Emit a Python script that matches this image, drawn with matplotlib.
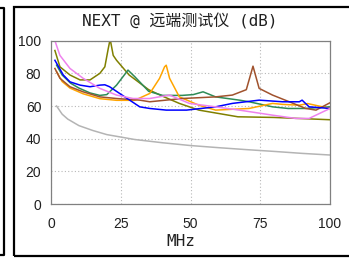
import matplotlib
matplotlib.use("Agg")
import matplotlib.pyplot as plt
from matplotlib.lines import Line2D

W, H = 349, 258

# --- DATA ---
limit_f = [2, 4, 6, 8, 10, 15, 20, 25, 30, 40, 50, 60, 70, 80, 90, 100]
limit_db = [60, 55, 52, 50, 48, 45, 42.5, 41, 39.5, 37.5, 35.8, 34.5, 33.3, 32.2, 31, 30]

olive_f = [1.4, 3.2, 6.8, 10.4, 14, 17.5, 19.3, 20.5, 21.2, 22.3, 23.5, 28, 35, 40, 46, 53, 67, 80, 100]
olive_db = [94, 84, 79, 76, 76, 80, 84, 95, 101, 91, 88, 79, 70, 66, 61.6, 57.5, 53.4, 53, 51.6]

green_f = [2, 4, 7, 10, 14, 17.5, 20, 23.5, 27.6, 30, 35, 40, 47, 51, 54.5, 59, 67.5, 71, 79.4, 85, 91, 100]
green_db = [85, 79, 74, 71, 68, 66.5, 67, 72.8, 82, 78, 69, 66.5, 66.5, 67, 68.7, 65.6, 63.6, 62.6, 59.5, 58.5, 58.5, 59.5]

orange_f = [2, 4, 6.8, 11.5, 17.5, 23.5, 30, 35.4, 38.9, 40.7, 41.3, 42.5, 46, 53, 59, 71, 79.4, 83, 89, 92, 100]
orange_db = [81, 75, 71, 67.5, 64.5, 63.5, 63.5, 67.7, 76.9, 84, 85, 77, 65.6, 60.5, 57.5, 58.5, 61.6, 61, 60.5, 61.5, 58.5]

brown_f = [1.4, 3.2, 6.8, 11.5, 17.5, 23.5, 31.8, 35.4, 47, 59, 65, 70, 72.4, 74.6, 79.4, 85.4, 91.3, 95, 100]
brown_db = [83, 77, 71.8, 68.7, 65.6, 64.6, 63.6, 62.6, 64.6, 65.6, 66.7, 70, 84.4, 70.8, 66.7, 62.6, 58.5, 57.5, 62]

blue_f = [1.4, 4.4, 6.8, 10.4, 14, 17.5, 19.3, 21, 24.6, 28.2, 31.8, 35.4, 41.3, 48.6, 59, 65, 74.6, 83, 89, 90, 92.5, 100]
blue_db = [88, 79, 74.8, 72.8, 71.8, 72.8, 73, 71.8, 67.7, 63.6, 59.5, 58.5, 57.5, 57.5, 59.5, 61.6, 63.6, 62.6, 62.6, 63.6, 59.5, 58.5]

pink_f = [1.4, 3.2, 6.8, 11.5, 17.5, 23.5, 29.4, 35.4, 42.5, 49.6, 59, 67.5, 79.4, 87.7, 92.5, 100]
pink_db = [100, 91, 83, 77, 70.8, 66.7, 64.6, 64.6, 66.7, 61.6, 59.5, 57.5, 54.4, 52.4, 52.4, 58.5]

series = [
    (limit_f, limit_db, '#b4b4b4'),
    (olive_f, olive_db, '#808000'),
    (green_f, green_db, '#2e8b57'),
    (orange_f, orange_db, '#ffa500'),
    (brown_f, brown_db, '#a0522d'),
    (blue_f, blue_db, '#0000ff'),
    (pink_f, pink_db, '#ee82ee'),
]

x_ticks = [0, 25, 50, 75, 100]
y_ticks = [0, 20, 40, 60, 80, 100]

plt.rcParams['font.family'] = ['Liberation Sans', 'DejaVu Sans']

fig = plt.figure(figsize=(W / 100, H / 100), dpi=100)

# outer frames
fig.add_artist(plt.Rectangle((13.5 / W, 2 / H), 1, 249 / H, transform=fig.transFigure,
                             fill=False, edgecolor='black', linewidth=1.6))
fig.add_artist(Line2D([0, 4 / W, 4 / W, 0], [250 / H, 250 / H, 3 / H, 3 / H],
                      transform=fig.transFigure, color='black', linewidth=1.6))

ax = fig.add_axes([51 / W, 54 / H, 279 / W, 163.3 / H])

for f, db, c in series:
    ax.plot(f, db, color=c, linewidth=1.1)

ax.set_xlim(0, 100)
ax.set_ylim(0, 100)
ax.set_xticks(x_ticks)
ax.set_yticks(y_ticks)
ax.tick_params(length=0, labelsize=10, colors='#202020', pad=7)
ax.tick_params(axis='x', pad=9)
ax.grid(True, linestyle=(0, (1, 2)), color='#b8b8b8', linewidth=0.8)
for s in ax.spines.values():
    s.set_color('#808080')
    s.set_linewidth(0.9)

fig.text(180 / W, 1 - 21 / H, 'NEXT @ 远端测试仪 (dB)', ha='center', va='center',
         fontsize=11.5, family=['DejaVu Sans Mono', 'Noto Sans CJK SC'], color='#202020')
fig.text(181 / W, 1 - 242 / H, 'MHz', ha='center', va='center', fontsize=11.5,
         family=['DejaVu Sans Mono'], color='#202020')

fig.savefig('out.png', dpi=100)
